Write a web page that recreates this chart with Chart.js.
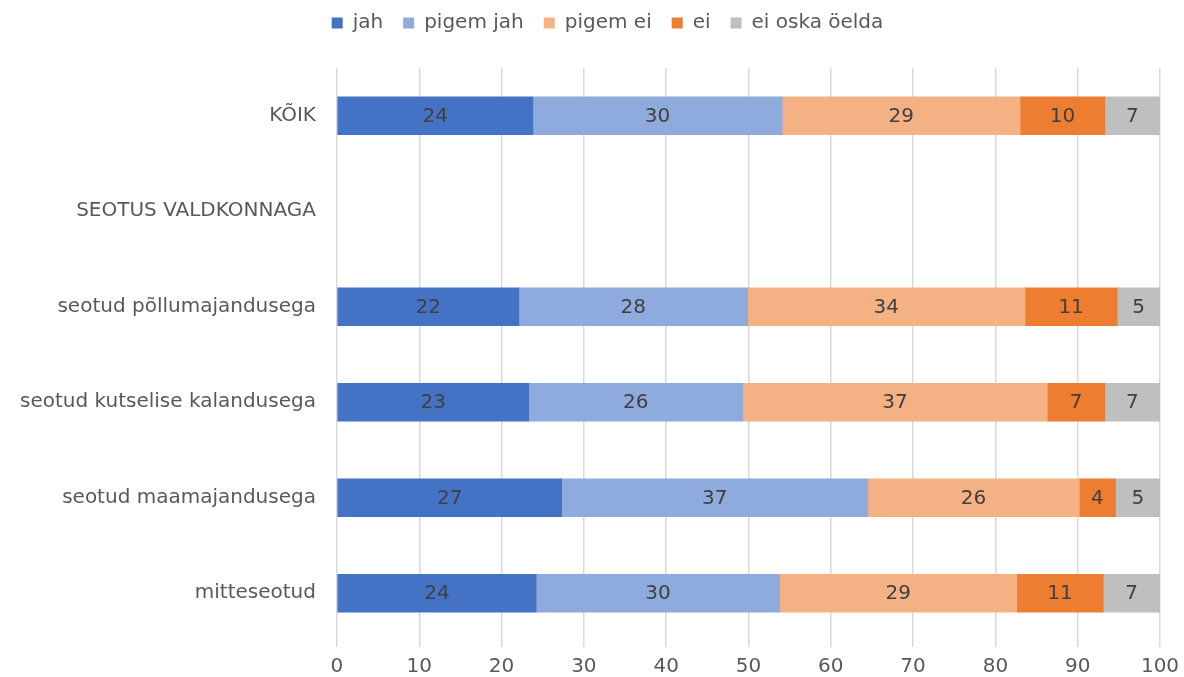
<!DOCTYPE html>
<html lang="et">
<head>
  <meta charset="UTF-8" />
  <title>Seotus valdkonnaga</title>
  <script src="https://cdn.jsdelivr.net/npm/chart.js"></script>
  <style>
    html, body { margin: 0; padding: 0; background: #fff; }
    #wrap { width: 1184px; height: 677px; position: relative; }
  </style>
</head>
<body>
  <div id="wrap"><canvas id="chart"></canvas></div>

  <script>
    // categories (top to bottom)
    const categories = [
      "KÕIK",
      "SEOTUS VALDKONNAGA",
      "seotud põllumajandusega",
      "seotud kutselise kalandusega",
      "seotud maamajandusega",
      "mitteseotud"
    ];

    // series values (%), null for the heading row
    const jah        = [23.8, null, 22.1, 23.3, 27.3, 24.2];
    const pigemJah   = [30.3, null, 27.8, 26.0, 37.2, 29.6];
    const pigemEi    = [28.9, null, 33.7, 37.0, 25.7, 28.8];
    const ei         = [10.3, null, 11.2,  7.0,  4.4, 10.5];
    const eiOskaOelda = [6.7, null,  5.2,  6.7,  5.4,  6.9];

    const xTicks = [0, 10, 20, 30, 40, 50, 60, 70, 80, 90, 100];

    const FONT = "'DejaVu Sans', Verdana, sans-serif";
    const SIZE = 20;

    // draws the rounded value in the middle of each segment
    const segmentLabels = {
      id: "segmentLabels",
      afterDatasetsDraw(chart) {
        const ctx = chart.ctx;
        ctx.save();
        ctx.font = SIZE + "px " + FONT;
        ctx.fillStyle = "#404040";
        ctx.textAlign = "center";
        ctx.textBaseline = "middle";
        chart.data.datasets.forEach((ds, i) => {
          const meta = chart.getDatasetMeta(i);
          meta.data.forEach((bar, j) => {
            const v = ds.data[j];
            if (v == null) return;
            const x = (bar.x + bar.base) / 2;
            ctx.fillText(Math.round(v), x, bar.y + 1);
          });
        });
        ctx.restore();
      }
    };

    // extra room under the legend, and nudge it a bit to the right
    const legendTweak = {
      id: "legendTweak",
      beforeInit(chart) {
        const legend = chart.legend;
        const fit = legend.fit;
        legend.fit = function () {
          fit.call(legend);
          this.height += 25;
        };
        const draw = legend.draw;
        legend.draw = function () {
          const ctx = chart.ctx;
          ctx.save();
          ctx.translate(12, 0);
          draw.call(legend);
          ctx.restore();
        };
      }
    };

    new Chart(document.getElementById("chart"), {
      type: "bar",
      data: {
        labels: categories,
        datasets: [
          { label: "jah", data: jah, backgroundColor: "#4472C4" },
          { label: "pigem jah", data: pigemJah, backgroundColor: "#8FAADC" },
          { label: "pigem ei", data: pigemEi, backgroundColor: "#F4B183" },
          { label: "ei", data: ei, backgroundColor: "#ED7D31" },
          { label: "ei oska öelda", data: eiOskaOelda, backgroundColor: "#BFBFBF" }
        ]
      },
      options: {
        indexAxis: "y",
        responsive: true,
        maintainAspectRatio: false,
        animation: false,
        layout: { padding: { left: 7, right: 0, top: -7, bottom: -10 } },
        datasets: {
          bar: { barThickness: 38, borderWidth: 0 }
        },
        plugins: {
          legend: {
            position: "top",
            labels: {
              font: { family: FONT, size: SIZE },
              color: "#595959",
              boxWidth: 11,
              boxHeight: 11,
              padding: 20
            }
          },
          tooltip: { enabled: false }
        },
        scales: {
          x: {
            stacked: true,
            min: 0,
            max: 100,
            afterBuildTicks: axis => { axis.ticks = xTicks.map(v => ({ value: v })); },
            afterFit: axis => { axis.paddingRight = 24; },
            grid: { color: "#D9D9D9", lineWidth: 1.5, drawTicks: true, tickLength: 6 },
            border: { display: false },
            ticks: { font: { family: FONT, size: SIZE, lineHeight: 1 }, color: "#595959", padding: 10 }
          },
          y: {
            stacked: true,
            grid: { display: false },
            border: { display: false },
            ticks: { font: { family: FONT, size: SIZE }, color: "#595959", padding: 13 }
          }
        }
      },
      plugins: [segmentLabels, legendTweak]
    });
  </script>
</body>
</html>
